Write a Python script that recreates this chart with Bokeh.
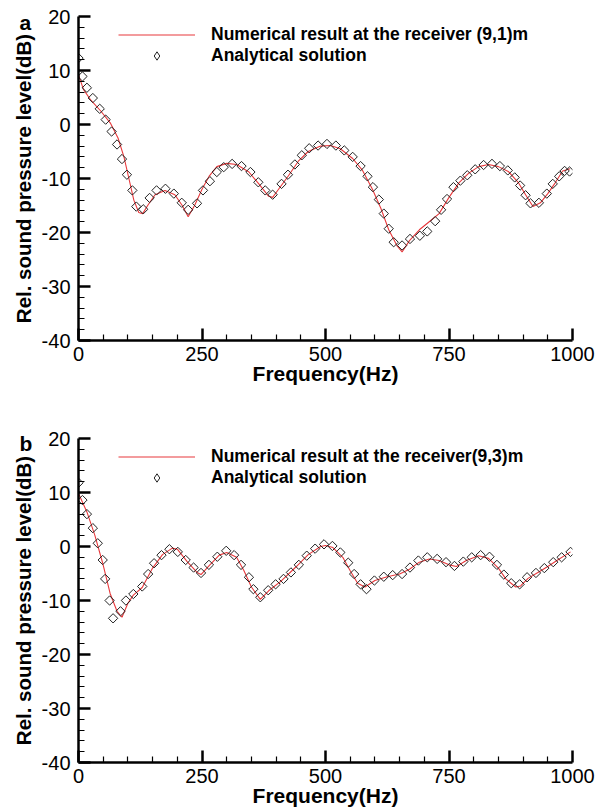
import numpy as np
from bokeh.plotting import figure
from bokeh.layouts import column
from bokeh.models import FixedTicker, Legend, LegendItem, Label, Range1d, PrintfTickFormatter
from bokeh.embed import file_html
from bokeh.resources import INLINE

# ---------------- data ----------------
x_ticks = [0, 250, 500, 750, 1000]
y_ticks = [-40, -30, -20, -10, 0, 10, 20]

freq_a_ana = [0, 8, 17, 29, 43, 55, 67, 78, 88, 98, 109, 117, 131, 144, 158, 176, 193, 209, 222, 240,
              252, 266, 280, 294, 311, 330, 348, 364, 378, 393, 411, 424, 438, 452, 467, 485, 503, 521, 538, 555,
              571, 585, 596, 608, 618, 628, 638, 655, 671, 691, 706, 722, 734, 746, 759, 773, 787, 803, 820, 837,
              853, 869, 883, 894, 905, 915, 932, 948, 960, 973, 984, 994]
spl_a_ana = [12.3, 8.9, 6.8, 4.9, 2.9, 0.9, -1.3, -3.7, -6.4, -9.3, -12.2, -15.2, -15.7, -13.6, -12.2, -11.9, -12.8, -14.5, -15.8, -14.6,
             -12.2, -10.5, -8.8, -7.9, -7.3, -7.7, -8.8, -10.7, -12.2, -13.0, -11.0, -9.3, -7.4, -5.7, -4.4, -3.9, -3.6, -3.9, -4.8, -6.0,
             -7.7, -9.6, -11.6, -13.9, -16.5, -19.3, -21.8, -22.4, -21.2, -20.6, -19.8, -17.9, -15.8, -13.8, -11.6, -10.4, -9.4, -8.3, -7.5, -7.3,
             -7.7, -8.5, -9.8, -11.3, -13.1, -14.6, -14.5, -12.8, -11.0, -9.6, -8.6, -8.7]

freq_a_num = [0, 10, 25, 45, 65, 80, 92, 102, 112, 122, 130, 140, 155, 175, 195, 210, 222, 235, 250, 265,
              280, 300, 320, 345, 365, 385, 393, 405, 425, 445, 465, 490, 510, 530, 555, 575, 595, 612, 628, 645,
              655, 670, 690, 710, 730, 750, 770, 790, 810, 830, 850, 870, 890, 905, 920, 935, 950, 965, 980, 995]
spl_a_num = [9.2, 6.5, 4.5, 2.5, 0.2, -2.5, -6.0, -10.0, -14.0, -16.3, -16.5, -15.0, -13.0, -12.2, -13.0, -15.0, -17.1, -15.0, -12.0, -9.5,
             -7.8, -7.2, -7.4, -8.8, -11.0, -13.3, -13.5, -12.0, -9.5, -6.8, -5.0, -4.0, -3.9, -4.5, -6.3, -8.5, -12.0, -15.5, -19.5, -22.5,
             -23.6, -21.5, -19.5, -18.0, -16.5, -13.5, -10.8, -9.0, -7.8, -7.4, -7.8, -8.7, -10.7, -13.0, -15.2, -14.5, -12.8, -10.8, -8.6, -8.2]

freq_b_ana = [0, 8, 17, 29, 39, 49, 54, 63, 70, 85, 96, 111, 129, 141, 153, 168, 184, 201, 217, 233,
              248, 264, 281, 299, 315, 329, 345, 354, 368, 384, 399, 415, 430, 446, 462, 479, 497, 514, 530, 546,
              558, 571, 583, 599, 618, 636, 655, 671, 688, 706, 726, 744, 761, 779, 796, 814, 832, 847, 861, 876,
              893, 908, 926, 943, 961, 978, 996]
spl_b_ana = [11.8, 8.6, 6.0, 3.4, 0.6, -2.5, -6.0, -10.0, -13.3, -12.0, -10.0, -8.8, -7.4, -5.1, -3.1, -1.6, -0.5, -1.0, -2.5, -3.9,
             -4.9, -3.4, -1.9, -0.8, -1.6, -3.4, -5.7, -7.9, -9.4, -8.1, -7.0, -6.0, -4.8, -3.4, -1.7, -0.4, 0.4, 0.1, -1.1, -3.0,
             -5.1, -7.0, -7.9, -6.3, -5.6, -5.3, -5.1, -3.9, -2.6, -2.0, -2.3, -2.9, -3.6, -2.8, -2.0, -1.6, -1.9, -3.4, -5.2, -6.8,
             -7.0, -5.7, -4.9, -4.0, -2.9, -2.0, -1.0]

freq_b_num = [0, 17, 33, 49, 64, 78, 88, 100, 111, 129, 150, 170, 190, 200, 220, 240, 248, 265, 285, 300,
              320, 335, 350, 368, 385, 410, 440, 465, 490, 500, 515, 535, 550, 565, 580, 600, 625, 650, 670, 690,
              710, 730, 750, 765, 785, 810, 830, 850, 865, 885, 895, 910, 930, 950, 970, 996]
spl_b_num = [9.8, 6.4, 2.1, -3.1, -8.7, -12.0, -13.1, -10.5, -9.0, -7.6, -4.0, -1.5, -0.3, -0.5, -2.8, -4.8, -5.2, -3.5, -1.6, -1.1,
             -2.0, -4.5, -7.5, -9.8, -8.2, -6.4, -3.8, -1.5, 0.0, 0.2, -0.2, -2.0, -4.5, -6.8, -7.5, -6.3, -5.6, -5.1, -4.2, -2.9,
             -2.3, -2.6, -3.4, -3.7, -2.6, -1.7, -2.2, -4.0, -6.0, -7.5, -7.3, -5.9, -4.8, -3.7, -2.5, -1.0]

label_num_a = "Numerical result at the receiver (9,1)m"
label_num_b = "Numerical result at the receiver(9,3)m"
label_ana = "Analytical solution"
panel_letters = ["a", "b"]

FONT = "Liberation Sans"
RED = "#e8393c"


def make_panel(letter, fn, sn, fa, sa, lab_num, height, top, bottom, letter_y):
    p = figure(width=598, height=height, output_backend="svg", toolbar_location=None,
               x_range=Range1d(0, 1000), y_range=Range1d(-40, 20),
               min_border_left=78, min_border_right=26,
               min_border_top=top, min_border_bottom=bottom)
    p.outline_line_color = None
    p.xgrid.visible = False
    p.ygrid.visible = False
    p.background_fill_color = "white"

    xminor = [v for v in range(0, 1001, 50) if v not in x_ticks]
    yminor = [v for v in range(-40, 21, 2) if v not in y_ticks]
    p.xaxis.ticker = FixedTicker(ticks=x_ticks, minor_ticks=xminor)
    p.yaxis.ticker = FixedTicker(ticks=y_ticks, minor_ticks=yminor)
    p.yaxis.formatter = PrintfTickFormatter(format="%d")

    for ax in (p.xaxis[0], p.yaxis[0]):
        ax.axis_line_width = 2.5
        ax.axis_line_color = "black"
        ax.major_tick_in = 12
        ax.major_tick_out = 0
        ax.minor_tick_in = 6
        ax.minor_tick_out = 0
        ax.major_tick_line_width = 2.5
        ax.minor_tick_line_width = 1.2
        ax.major_tick_line_color = "black"
        ax.minor_tick_line_color = "black"
        ax.major_label_text_font = FONT
        ax.major_label_text_font_size = "20px"
        ax.major_label_text_color = "black"
        ax.axis_label_text_font = FONT
        ax.axis_label_text_font_style = "bold"
        ax.axis_label_text_color = "black"

    p.xaxis.major_label_standoff = 6
    p.yaxis.major_label_standoff = 8
    p.xaxis.axis_label = "Frequency(Hz)"
    p.xaxis.axis_label_text_font_size = "21px"
    p.xaxis.axis_label_standoff = -2
    p.yaxis.axis_label = "Rel. sound pressure level(dB)"
    p.yaxis.axis_label_text_font_size = "20.5px"
    p.yaxis.axis_label_standoff = 4

    r_line = p.line(fn, sn, line_color=RED, line_width=1.1)
    r_pts = p.scatter(fa, sa, marker="square", angle=np.pi / 4, size=6.6,
                      fill_color=None, line_color="#222222", line_width=1)
    # hidden copy used only for the legend key (legend keys are not rotated)
    r_key = p.scatter(fa, sa, marker="diamond", size=11,
                      fill_color=None, line_color="#222222", line_width=1,
                      visible=False)

    legend = Legend(items=[LegendItem(label=lab_num, renderers=[r_line]),
                           LegendItem(label=label_ana, renderers=[r_key])],
                    location=(40, 274), padding=0, margin=0, spacing=0,
                    glyph_width=77, glyph_height=21, label_height=21,
                    label_standoff=16,
                    label_text_font=FONT, label_text_font_size="17.5px",
                    label_text_font_style="bold", label_text_color="black",
                    border_line_color=None, background_fill_alpha=0,
                    inactive_fill_alpha=0)
    p.add_layout(legend)

    # panel letter: kept in the (empty) right side panel so it is not clipped
    p.add_layout(Label(x=-553, y=letter_y, x_units="screen", y_units="screen",
                       text=letter, text_font=FONT,
                       text_font_size="21px", text_font_style="bold",
                       text_color="black", text_align="left",
                       text_baseline="alphabetic"), "right")
    return p


p1 = make_panel(panel_letters[0], freq_a_num, spl_a_num, freq_a_ana, spl_a_ana,
                label_num_a, 398, 16, 58, 318)
p2 = make_panel(panel_letters[1], freq_b_num, spl_b_num, freq_b_ana, spl_b_ana,
                label_num_b, 412, 40, 48, 319)

layout = column(p1, p2, spacing=0)
open("out.html", "w").write(file_html(layout, INLINE))
